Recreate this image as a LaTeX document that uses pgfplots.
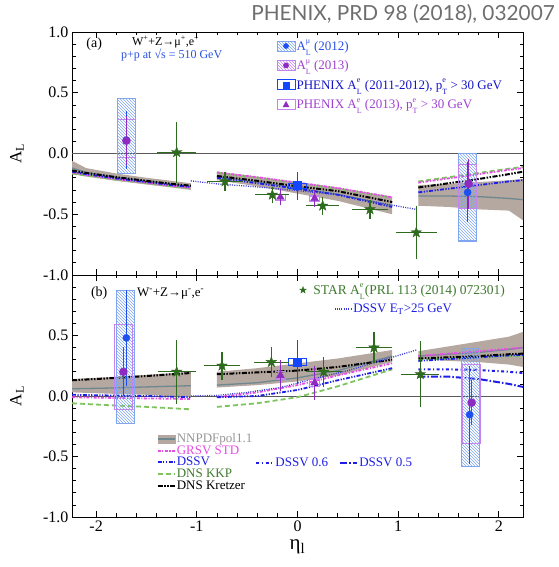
\documentclass[border=0pt]{standalone}
\usepackage{fontspec}
\setmainfont{Liberation Serif}
\newfontfamily\titlefont{Lato}
\usepackage{pgfplots}
\pgfplotsset{compat=1.18}
\usetikzlibrary{patterns}

\definecolor{bandcol}{RGB}{181,168,160}
\definecolor{nnline}{RGB}{110,135,144}
\definecolor{grsv}{RGB}{230,76,230}
\definecolor{dssv}{RGB}{30,30,230}
\definecolor{kkp}{RGB}{124,196,92}
\definecolor{dssvet}{RGB}{58,58,216}
\definecolor{stargreen}{RGB}{47,107,31}
\definecolor{ptblue}{RGB}{30,80,240}
\definecolor{boxblue}{RGB}{127,166,238}
\definecolor{ptpurple}{RGB}{142,42,192}
\definecolor{boxpurple}{RGB}{196,132,240}
\definecolor{eblue}{RGB}{20,70,255}
\definecolor{titlegray}{RGB}{110,110,110}
\definecolor{txtblue}{RGB}{40,80,230}
\definecolor{txtdblue}{RGB}{20,20,200}
\definecolor{txtpurple}{RGB}{160,64,208}
\definecolor{txtgreen}{RGB}{62,122,46}
\definecolor{txtgray}{RGB}{150,150,150}

\newcommand{\supsub}[2]{\rlap{\raisebox{0.52em}{\fontsize{8}{8}\selectfont #1}}\raisebox{-0.38em}{\fontsize{8}{8}\selectfont #2}}
\newcommand{\AL}[1]{A\supsub{#1}{L}}
\newcommand{\pTe}{p\supsub{e}{T}}

\pgfdeclareplotmark{fstar}{%
  \pgfpathmoveto{\pgfqpoint{0pt}{\pgfplotmarksize}}%
  \pgfpathlineto{\pgfqpoint{-0.235\pgfplotmarksize}{0.324\pgfplotmarksize}}%
  \pgfpathlineto{\pgfqpoint{-0.951\pgfplotmarksize}{0.309\pgfplotmarksize}}%
  \pgfpathlineto{\pgfqpoint{-0.380\pgfplotmarksize}{-0.124\pgfplotmarksize}}%
  \pgfpathlineto{\pgfqpoint{-0.588\pgfplotmarksize}{-0.809\pgfplotmarksize}}%
  \pgfpathlineto{\pgfqpoint{0pt}{-0.4\pgfplotmarksize}}%
  \pgfpathlineto{\pgfqpoint{0.588\pgfplotmarksize}{-0.809\pgfplotmarksize}}%
  \pgfpathlineto{\pgfqpoint{0.380\pgfplotmarksize}{-0.124\pgfplotmarksize}}%
  \pgfpathlineto{\pgfqpoint{0.951\pgfplotmarksize}{0.309\pgfplotmarksize}}%
  \pgfpathlineto{\pgfqpoint{0.235\pgfplotmarksize}{0.324\pgfplotmarksize}}%
  \pgfpathclose
  \pgfusepathqfillstroke
}

\tikzset{
  nnS/.style={color=nnline, line width=1.3pt},
  grsvS/.style={color=grsv, line width=1.8pt, dash pattern=on 3pt off 1.5pt on 1.2pt off 1.5pt},
  dssvS/.style={color=dssv, line width=1.8pt, dash pattern=on 4pt off 1.5pt on 1.2pt off 1.5pt on 1.2pt off 1.5pt},
  kkpS/.style={color=kkp, line width=1.8pt, dash pattern=on 5pt off 3pt},
  kretS/.style={color=black, line width=2pt, dash pattern=on 5pt off 1.5pt on 1.5pt off 1.5pt on 1.5pt off 1.5pt},
  d6S/.style={color=dssv, line width=2pt, dash pattern=on 3pt off 2.5pt on 1.2pt off 2.5pt},
  d5S/.style={color=dssv, line width=2pt, dash pattern=on 7pt off 2pt on 1.5pt off 2pt},
  etS/.style={color=dssvet, line width=1.3pt, dash pattern=on 1pt off 1.3pt},
}

\pgfplotsset{
  panel/.style={
    scale only axis, width=451pt, anchor=south west,
    xmin=-2.24, xmax=2.24, ymin=-1, ymax=1,
    xtick={-2,-1,0,1,2}, minor x tick num=4,
    ytick={-1,-0.5,0,0.5,1}, minor y tick num=4,
    tick align=inside, major tick length=6pt, minor tick length=3.5pt,
    axis line style={line width=0.9pt},
    major tick style={line width=0.9pt, black},
    minor tick style={line width=0.7pt, black},
    tick label style={font=\fontsize{16}{18}\selectfont},
    every axis y label/.style={at={(axis description cs:-0.122,0.5)}, rotate=90, anchor=center, font=\fontsize{17}{18}\selectfont},
    legend cell align=left,
  },
  ebar/.style={error bars/.cd, y dir=both, y explicit, error bar style={line width=1.2pt}, error mark options={mark size=2pt, line width=1.2pt}},
  sbar/.style={error bars/.cd, x dir=both, x explicit, y dir=both, y explicit, error bar style={line width=1.2pt}, error mark options={mark size=2.5pt, line width=1.2pt}},
}

\begin{document}
\begin{tikzpicture}
\path[use as bounding box] (0,0) rectangle (558pt,567pt);
\node[anchor=base east, font=\titlefont\fontsize{20.8}{22}\selectfont, text=titlegray, inner sep=0pt] at (555pt,546pt) {PHENIX, PRD 98 (2018), 032007};

% ================= panel (a) =================
\begin{axis}[panel, at={(72pt,292pt)}, height=243pt,
  xticklabels={}, yticklabels={-1.0,-0.5,0.0,0.5,1.0},
  ylabel={A\textsubscript{L}},
  legend style={at={(axis cs:-0.24,0.96)}, anchor=north west, draw=none, fill=none,
    font=\fontsize{13}{13}\selectfont, row sep=5.5pt, nodes={inner sep=1pt}},
]
\addlegendimage{legend image code/.code={\draw[boxblue, line width=1pt, pattern=north west lines, pattern color=boxblue] (0pt,-5pt) rectangle (18pt,5pt); \fill[ptblue] (9pt,0pt) circle (2.6pt);}}
\addlegendentry{\textcolor{txtblue}{\AL{μ} (2012)}}
\addlegendimage{legend image code/.code={\draw[boxpurple, line width=1pt, pattern=north west lines, pattern color=boxpurple] (0pt,-5pt) rectangle (18pt,5pt); \fill[ptpurple] (9pt,0pt) circle (2.6pt);}}
\addlegendentry{\textcolor{txtpurple}{\AL{μ} (2013)}}
\addlegendimage{legend image code/.code={\draw[eblue, line width=1pt] (0pt,-5pt) rectangle (18pt,5pt); \fill[eblue] (6pt,-3pt) rectangle (12pt,3pt);}}
\addlegendentry{\textcolor{txtdblue}{PHENIX \AL{e} (2011-2012), \pTe{} > 30 GeV}}
\addlegendimage{legend image code/.code={\draw[boxpurple, line width=1pt] (0pt,-5pt) rectangle (18pt,5pt); \fill[ptpurple] (6pt,-2.5pt) -- (12pt,-2.5pt) -- (9pt,3pt) -- cycle;}}
\addlegendentry{\textcolor{txtpurple}{PHENIX \AL{e} (2013), \pTe{} > 30 GeV}}

\addplot[gray!70!black, line width=0.8pt, forget plot] coordinates {(-2.24,0) (2.24,0)};

% backward
\addplot[fill=bandcol, draw=none, forget plot] coordinates {(-2.24,-0.06) (-2.1,-0.12) (-1.8,-0.165) (-1.5,-0.20) (-1.25,-0.225) (-1.06,-0.245) (-1.06,-0.30) (-1.25,-0.28) (-1.5,-0.255) (-1.8,-0.225) (-2.1,-0.19) (-2.24,-0.17)} -- cycle;
\addplot[nnS, forget plot] coordinates {(-2.24,-0.12) (-2.1,-0.155) (-1.8,-0.195) (-1.5,-0.228) (-1.25,-0.252) (-1.06,-0.272)};
\addplot[kkpS, forget plot] coordinates {(-2.24,-0.165) (-2.1,-0.18) (-1.8,-0.215) (-1.5,-0.245) (-1.25,-0.27) (-1.06,-0.285)};
\addplot[grsvS, forget plot] coordinates {(-2.24,-0.155) (-2.1,-0.175) (-1.8,-0.21) (-1.5,-0.24) (-1.25,-0.265) (-1.06,-0.28)};
\addplot[dssvS, forget plot] coordinates {(-2.24,-0.15) (-2.1,-0.17) (-1.8,-0.205) (-1.5,-0.235) (-1.25,-0.26) (-1.06,-0.275)};
\addplot[kretS, forget plot] coordinates {(-2.24,-0.14) (-2.1,-0.16) (-1.8,-0.195) (-1.5,-0.225) (-1.25,-0.25) (-1.06,-0.265)};
% central
\addplot[fill=bandcol, draw=none, forget plot] coordinates {(-0.8,-0.15) (-0.4,-0.19) (0,-0.235) (0.4,-0.28) (0.94,-0.355) (0.94,-0.50) (0.4,-0.39) (0,-0.33) (-0.4,-0.27) (-0.8,-0.22)} -- cycle;
\addplot[nnS, forget plot] coordinates {(-0.8,-0.19) (-0.4,-0.235) (0,-0.285) (0.4,-0.335) (0.94,-0.43)};
\addplot[kkpS, forget plot] coordinates {(-0.8,-0.16) (-0.4,-0.2) (0,-0.245) (0.4,-0.29) (0.94,-0.365)};
\addplot[grsvS, forget plot] coordinates {(-0.8,-0.155) (-0.4,-0.195) (0,-0.24) (0.4,-0.285) (0.94,-0.36)};
\addplot[dssvS, forget plot] coordinates {(-0.8,-0.2) (-0.4,-0.245) (0,-0.29) (0.4,-0.34) (0.94,-0.44)};
\addplot[kretS, forget plot] coordinates {(-0.8,-0.185) (-0.4,-0.225) (0,-0.27) (0.4,-0.31) (0.94,-0.40)};
% forward
\addplot[fill=bandcol, draw=none, forget plot] coordinates {(1.2,-0.26) (1.5,-0.25) (1.8,-0.235) (2.1,-0.22) (2.24,-0.21) (2.24,-0.55) (2.1,-0.47) (1.8,-0.46) (1.5,-0.44) (1.2,-0.43)} -- cycle;
\addplot[nnS, forget plot] coordinates {(1.2,-0.35) (1.5,-0.35) (1.8,-0.355) (2.1,-0.37) (2.24,-0.38)};
\addplot[kkpS, forget plot] coordinates {(1.2,-0.23) (1.5,-0.195) (1.8,-0.16) (2.1,-0.125) (2.24,-0.11)};
\addplot[grsvS, forget plot] coordinates {(1.2,-0.24) (1.5,-0.205) (1.8,-0.17) (2.1,-0.135) (2.24,-0.12)};
\addplot[dssvS, forget plot] coordinates {(1.2,-0.32) (1.5,-0.29) (1.8,-0.26) (2.1,-0.23) (2.24,-0.22)};
\addplot[kretS, forget plot] coordinates {(1.2,-0.28) (1.5,-0.245) (1.8,-0.21) (2.1,-0.17) (2.24,-0.15)};
% DSSV ET>25
\addplot[etS, forget plot] coordinates {(-1.06,-0.225) (-0.8,-0.25) (-0.4,-0.275) (0,-0.305) (0.4,-0.34) (0.94,-0.425) (1.18,-0.46)};

% muon syst boxes
\addplot[boxblue, line width=1.2pt, pattern=north west lines, pattern color=boxblue, forget plot] coordinates {(-1.79,-0.165) (-1.61,-0.165) (-1.61,0.45) (-1.79,0.45)} -- cycle;
\addplot[boxpurple, line width=1.2pt, forget plot] coordinates {(-1.79,-0.03) (-1.61,-0.03) (-1.61,0.28) (-1.79,0.28)} -- cycle;
\addplot[boxblue, line width=1.2pt, pattern=north west lines, pattern color=boxblue, forget plot] coordinates {(1.6,-0.72) (1.78,-0.72) (1.78,0.0) (1.6,0.0)} -- cycle;
\addplot[boxpurple, line width=1.2pt, forget plot] coordinates {(1.6,-0.455) (1.78,-0.455) (1.78,-0.09) (1.6,-0.09)} -- cycle;
% electron syst boxes
\addplot[eblue, line width=1.2pt, forget plot] coordinates {(-0.09,-0.29) (0.09,-0.29) (0.09,-0.245) (-0.09,-0.245)} -- cycle;
\addplot[boxpurple, line width=1.2pt, forget plot] coordinates {(-0.22,-0.385) (-0.12,-0.385) (-0.12,-0.34) (-0.22,-0.34)} -- cycle;
\addplot[boxpurple, line width=1.2pt, forget plot] coordinates {(0.12,-0.395) (0.22,-0.395) (0.22,-0.35) (0.12,-0.35)} -- cycle;

% STAR
\addplot[forget plot, only marks, mark=fstar, mark size=5.5pt, color=stargreen, sbar] coordinates {
 (-1.2,0.01) +- (0.17,0.23)
 (-0.72,-0.23) +- (0.15,0.055)
 (-0.25,-0.34) +- (0.145,0.045)
 (0.25,-0.43) +- (0.14,0.055)
 (0.72,-0.46) +- (0.155,0.06)
 (1.18,-0.65) +- (0.18,0.2)
};
% PHENIX muons
\addplot[forget plot, only marks, mark=*, mark size=3.6pt, color=ptblue, ebar] coordinates {(-1.7,0.11) +- (0,0.22) (1.69,-0.32) +- (0,0.23)};
\addplot[forget plot, only marks, mark=*, mark size=4pt, color=ptpurple, ebar] coordinates {(-1.7,0.105) +- (0,0.185) (1.7,-0.25) +- (0,0.19)};
% PHENIX electrons
\addplot[forget plot, only marks, mark=triangle*, mark size=4.5pt, color=ptpurple, ebar] coordinates {(-0.17,-0.36) +- (0,0.05) (0.17,-0.37) +- (0,0.05)};
\addplot[forget plot, only marks, mark=square*, mark size=4pt, color=eblue, ebar] coordinates {(0,-0.265) +- (0,0.1)};

\node[font=\fontsize{14}{14}\selectfont] at (axis cs:-2.02,0.9) {(a)};
\node[font=\fontsize{12}{13}\selectfont] at (axis cs:-1.31,0.918) {W\textsuperscript{+}+Z→μ\textsuperscript{+},e\textsuperscript{+}};
\node[font=\fontsize{12}{13}\selectfont, text=txtblue] at (axis cs:-1.25,0.812) {p+p at √s = 510 GeV};
\end{axis}

% ================= panel (b) =================
\begin{axis}[panel, at={(72pt,50pt)}, height=242pt,
  xticklabels={-2,-1,0,1,2}, yticklabels={-1.0,-0.5,0.0,0.5,{}},
  ylabel={A\textsubscript{L}},
  xlabel={η\textsubscript{l}},
  every axis x label/.style={at={(axis description cs:0.5,-0.125)}, anchor=center, font=\fontsize{21}{22}\selectfont},
  legend style={at={(axis cs:-1.43,-0.285)}, anchor=north west, draw=none, fill=none,
    font=\fontsize{13}{12}\selectfont, row sep=-0.5pt, nodes={inner sep=1pt}},
]
\addlegendimage{legend image code/.code={\fill[bandcol] (0pt,-4pt) rectangle (17pt,4pt); \draw[nnS] (0pt,0pt) -- (17pt,0pt);}}
\addlegendentry{\textcolor{txtgray}{NNPDFpol1.1}}
\addlegendimage{grsvS}
\addlegendentry{\textcolor{grsv}{GRSV STD}}
\addlegendimage{dssvS}
\addlegendentry{\textcolor{dssv}{DSSV}}
\addlegendimage{kkpS}
\addlegendentry{\textcolor{txtgreen}{DNS KKP}}
\addlegendimage{kretS}
\addlegendentry{DNS Kretzer}

\addplot[gray!70!black, line width=0.8pt, forget plot] coordinates {(-2.24,0) (2.24,0)};

% backward
\addplot[fill=bandcol, draw=none, forget plot] coordinates {(-2.24,0.14) (-1.9,0.155) (-1.5,0.175) (-1.06,0.2) (-1.06,-0.01) (-1.5,0.01) (-1.9,0.02) (-2.24,0.03)} -- cycle;
\addplot[nnS, forget plot] coordinates {(-2.24,0.06) (-1.9,0.065) (-1.5,0.075) (-1.06,0.085)};
\addplot[kkpS, forget plot] coordinates {(-2.24,-0.06) (-1.9,-0.075) (-1.5,-0.09) (-1.06,-0.11)};
\addplot[grsvS, forget plot] coordinates {(-2.24,-0.01) (-1.9,-0.015) (-1.5,-0.02) (-1.06,-0.025)};
\addplot[dssvS, forget plot] coordinates {(-2.24,0.01) (-1.9,0.005) (-1.5,0.0) (-1.06,-0.01)};
\addplot[kretS, forget plot] coordinates {(-2.24,0.13) (-1.9,0.145) (-1.5,0.165) (-1.06,0.19)};
% central
\addplot[fill=bandcol, draw=none, forget plot] coordinates {(-0.8,0.2) (-0.4,0.23) (0,0.27) (0.4,0.31) (0.94,0.38) (0.94,0.28) (0.4,0.17) (0,0.12) (-0.4,0.09) (-0.8,0.07)} -- cycle;
\addplot[nnS, forget plot] coordinates {(-0.8,0.09) (-0.4,0.11) (0,0.15) (0.4,0.21) (0.94,0.33)};
\addplot[kkpS, forget plot] coordinates {(-0.8,-0.09) (-0.4,-0.06) (0,-0.01) (0.4,0.08) (0.94,0.22)};
\addplot[grsvS, forget plot] coordinates {(-0.8,-0.01) (-0.4,0.03) (0,0.09) (0.4,0.17) (0.94,0.27)};
\addplot[dssvS, forget plot] coordinates {(-0.8,-0.01) (-0.4,0.0) (0,0.05) (0.4,0.13) (0.94,0.23)};
\addplot[kretS, forget plot] coordinates {(-0.8,0.18) (-0.4,0.195) (0,0.21) (0.4,0.24) (0.94,0.30)};
% forward
\addplot[fill=bandcol, draw=none, forget plot] coordinates {(1.2,0.37) (1.5,0.41) (1.8,0.45) (2.1,0.49) (2.24,0.53) (2.24,0.24) (2.1,0.26) (1.8,0.28) (1.5,0.29) (1.2,0.31)} -- cycle;
\addplot[nnS, forget plot] coordinates {(1.2,0.33) (1.5,0.345) (1.8,0.36) (2.1,0.385) (2.24,0.40)};
\addplot[kkpS, forget plot] coordinates {(1.2,0.30) (1.5,0.31) (1.8,0.32) (2.1,0.33) (2.24,0.33)};
\addplot[grsvS, forget plot] coordinates {(1.2,0.33) (1.5,0.35) (1.8,0.37) (2.1,0.39) (2.24,0.40)};
\addplot[dssvS, forget plot] coordinates {(1.2,0.29) (1.5,0.305) (1.8,0.32) (2.1,0.335) (2.24,0.34)};
\addplot[kretS, forget plot] coordinates {(1.2,0.31) (1.5,0.32) (1.8,0.33) (2.1,0.345) (2.24,0.35)};
\addplot[d6S, forget plot] coordinates {(1.2,0.22) (1.5,0.22) (1.8,0.215) (2.1,0.2) (2.24,0.19)};
\addplot[d5S, forget plot] coordinates {(1.2,0.16) (1.5,0.16) (1.8,0.14) (2.1,0.10) (2.24,0.075)};
% DSSV ET>25
\addplot[etS, forget plot] coordinates {(-1.06,0.0) (-0.8,0.005) (-0.5,0.03) (-0.17,0.07) (0.2,0.15) (0.5,0.21) (0.94,0.32) (1.18,0.38)};

% muon syst boxes
\addplot[boxblue, line width=1.2pt, pattern=north west lines, pattern color=boxblue, forget plot] coordinates {(-1.8,-0.23) (-1.62,-0.23) (-1.62,0.87) (-1.8,0.87)} -- cycle;
\addplot[boxpurple, line width=1.2pt, forget plot] coordinates {(-1.82,-0.11) (-1.64,-0.11) (-1.64,0.59) (-1.82,0.59)} -- cycle;
\addplot[boxblue, line width=1.2pt, pattern=north west lines, pattern color=boxblue, forget plot] coordinates {(1.63,-0.58) (1.81,-0.58) (1.81,0.39) (1.63,0.39)} -- cycle;
\addplot[boxpurple, line width=1.2pt, forget plot] coordinates {(1.64,-0.39) (1.82,-0.39) (1.82,0.26) (1.64,0.26)} -- cycle;
% electron syst boxes
\addplot[eblue, line width=1.2pt, forget plot] coordinates {(-0.09,0.25) (0.09,0.25) (0.09,0.31) (-0.09,0.31)} -- cycle;
\addplot[boxpurple, line width=1.2pt, forget plot] coordinates {(-0.22,0.14) (-0.12,0.14) (-0.12,0.2) (-0.22,0.2)} -- cycle;
\addplot[boxpurple, line width=1.2pt, forget plot] coordinates {(0.12,0.08) (0.22,0.08) (0.22,0.14) (0.12,0.14)} -- cycle;

% STAR
\addplot[forget plot, only marks, mark=fstar, mark size=5.5pt, color=stargreen, sbar] coordinates {
 (-1.2,0.2) +- (0.165,0.245)
 (-0.75,0.25) +- (0.15,0.095)
 (-0.26,0.28) +- (0.15,0.105)
 (0.26,0.2) +- (0.155,0.105)
 (0.76,0.4) +- (0.155,0.105)
 (1.22,0.18) +- (0.165,0.25)
};
% PHENIX muons
\addplot[forget plot, only marks, mark=*, mark size=3.6pt, color=ptblue, ebar] coordinates {(-1.7,0.48) +- (0,0.38) (1.71,-0.155) +- (0,0.39)};
\addplot[forget plot, only marks, mark=*, mark size=4pt, color=ptpurple, ebar] coordinates {(-1.73,0.2) +- (0,0.185) (1.73,-0.055) +- (0,0.17)};
% PHENIX electrons
\addplot[forget plot, only marks, mark=triangle*, mark size=4.5pt, color=ptpurple, ebar] coordinates {(-0.17,0.17) +- (0,0.115) (0.17,0.11) +- (0,0.125)};
\addplot[forget plot, only marks, mark=square*, mark size=4pt, color=eblue, ebar] coordinates {(0,0.28) +- (0,0.165)};

\node[font=\fontsize{14}{14}\selectfont] at (axis cs:-1.97,0.85) {(b)};
\node[font=\fontsize{13}{13}\selectfont] at (axis cs:-1.26,0.85) {W\textsuperscript{-}+Z→μ\textsuperscript{-},e\textsuperscript{-}};
\end{axis}

% legend: DSSV 0.6 / 0.5 row
\begin{axis}[panel, at={(72pt,50pt)}, height=242pt, hide axis,
  legend columns=2,
  legend style={at={(axis cs:-0.45,-0.55)}, anchor=west, draw=none, fill=none,
    font=\fontsize{13}{12}\selectfont, nodes={inner sep=1pt}, /tikz/every even column/.append style={column sep=10pt}},
]
\addlegendimage{d6S}
\addlegendentry{\textcolor{dssv}{DSSV 0.6}}
\addlegendimage{d5S}
\addlegendentry{\textcolor{dssv}{DSSV 0.5}}
\end{axis}

% legend: STAR
\begin{axis}[panel, at={(72pt,50pt)}, height=242pt, hide axis,
  legend style={at={(axis cs:-0.01,0.875)}, anchor=west, draw=none, fill=none,
    font=\fontsize{13.5}{13}\selectfont, nodes={inner sep=1pt}},
]
\addlegendimage{only marks, mark=fstar, mark size=3.5pt, color=stargreen}
\addlegendentry{\hspace{6pt}\textcolor{txtgreen}{STAR \AL{e}(PRL 113 (2014) 072301)}}
\end{axis}

% legend: DSSV ET
\begin{axis}[panel, at={(72pt,50pt)}, height=242pt, hide axis,
  legend style={at={(axis cs:0.33,0.72)}, anchor=west, draw=none, fill=none,
    font=\fontsize{13}{12}\selectfont, nodes={inner sep=1pt}},
]
\addlegendimage{etS}
\addlegendentry{\textcolor{dssv}{DSSV E\textsubscript{T}>25 GeV}}
\end{axis}
\end{tikzpicture}
\end{document}
